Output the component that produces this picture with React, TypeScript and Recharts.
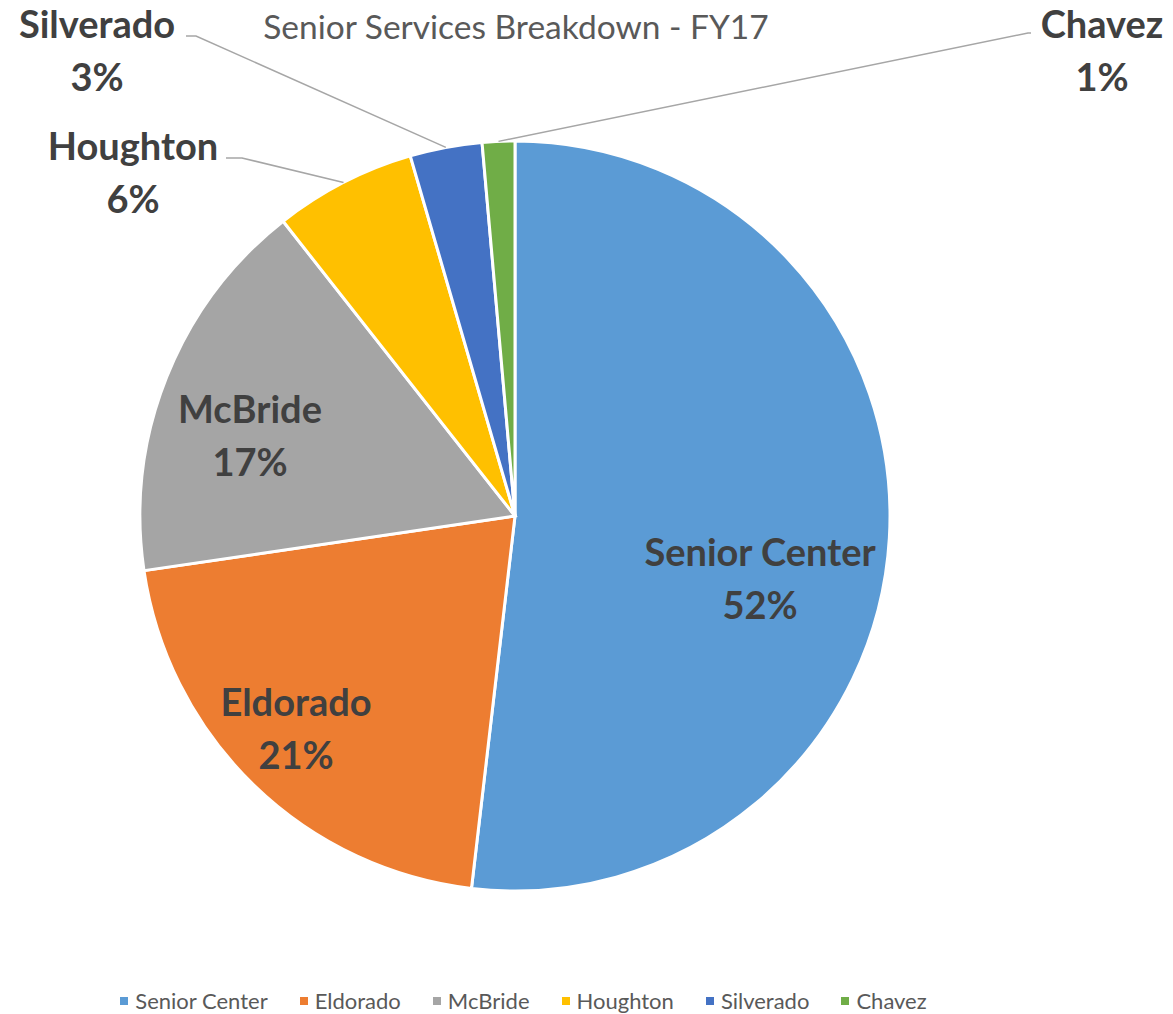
import React from 'react';
import { PieChart, Pie, Cell, Legend } from 'recharts';

const categories = ['Senior Center', 'Eldorado', 'McBride', 'Houghton', 'Silverado', 'Chavez'];
const shares = [51.8, 20.8, 16.7, 6.1, 3.1, 1.4];
const colors = ['#5B9BD5', '#ED7D31', '#A5A5A5', '#FFC000', '#4472C4', '#70AD47'];
const chartTitle = 'Senior Services Breakdown - FY17';

// label layout: offset of label centre from pie centre, and optional leader elbow
const labelLayout = [
  { dx: 245, dy: 63, elbow: null as null | { x1: number; x2: number; y: number } },
  { dx: -219, dy: 213, elbow: null },
  { dx: -265, dy: -80, elbow: null },
  { dx: -382, dy: -343, elbow: { x1: -273, x2: -289, y: -358 } },
  { dx: -418, dy: -465, elbow: { x1: -319, x2: -329, y: -480 } },
  { dx: 587, dy: -465, elbow: { x1: 513, x2: 516, y: -483 } },
];

const data = categories.map((name, i) => ({ name, value: shares[i] }));

const FONT = 'Lato, "Open Sans", sans-serif';
const RAD = Math.PI / 180;

const renderLabel = (props: any) => {
  const { cx, cy, midAngle, outerRadius, percent, index, name } = props;
  const lay = labelLayout[index];
  const lx = cx + lay.dx;
  const ly = cy + lay.dy;
  const pct = `${Math.round(percent * 100)}%`;
  let line = null;
  if (lay.elbow) {
    const ex = cx + outerRadius * Math.cos(-midAngle * RAD);
    const ey = cy + outerRadius * Math.sin(-midAngle * RAD);
    const pts = `${ex},${ey} ${cx + lay.elbow.x1},${cy + lay.elbow.y} ${cx + lay.elbow.x2},${cy + lay.elbow.y}`;
    line = <polyline points={pts} fill="none" stroke="#A6A6A6" strokeWidth={1.5} />;
  }
  return (
    <g>
      {line}
      <text
        x={lx}
        y={ly}
        textAnchor="middle"
        fill="#404040"
        style={{ fontFamily: FONT, fontWeight: 700, fontSize: 38 }}
      >
        <tspan x={lx} dy={-13}>{name}</tspan>
        <tspan x={lx} dy={53}>{pct}</tspan>
      </text>
    </g>
  );
};

const renderLegend = () => (
  <div
    style={{
      display: 'flex',
      justifyContent: 'center',
      gap: 32,
      fontFamily: FONT,
      fontSize: 22,
      color: '#595959',
      transform: 'translateX(-63px)',
    }}
  >
    {categories.map((c, i) => (
      <div key={c} style={{ display: 'flex', alignItems: 'center' }}>
        <span style={{ display: 'inline-block', width: 8, height: 8, background: colors[i], marginRight: 7 }} />
        <span>{c}</span>
      </div>
    ))}
  </div>
);

export default function App() {
  return (
    <div style={{ position: 'absolute', left: 0, top: 0, width: 1173, height: 1014, background: '#fff' }}>
      <PieChart width={1173} height={1014} margin={{ top: 0, right: 0, bottom: 0, left: 0 }}>
        <text
          x={516}
          y={39}
          textAnchor="middle"
          fill="#595959"
          style={{ fontFamily: FONT, fontSize: 33.5 }}
        >
          {chartTitle}
        </text>
        <Pie
          data={data}
          dataKey="value"
          nameKey="name"
          cx={515}
          cy={516}
          outerRadius={375}
          startAngle={90}
          endAngle={-270}
          stroke="#FFFFFF"
          strokeWidth={3}
          labelLine={false}
          label={renderLabel}
          isAnimationActive={false}
        >
          {data.map((d, i) => (
            <Cell key={d.name} fill={colors[i]} />
          ))}
        </Pie>
        <Legend
          verticalAlign="bottom"
          align="center"
          content={renderLegend}
          wrapperStyle={{ bottom: 0, left: 0, width: 1173 }}
        />
      </PieChart>
    </div>
  );
}
